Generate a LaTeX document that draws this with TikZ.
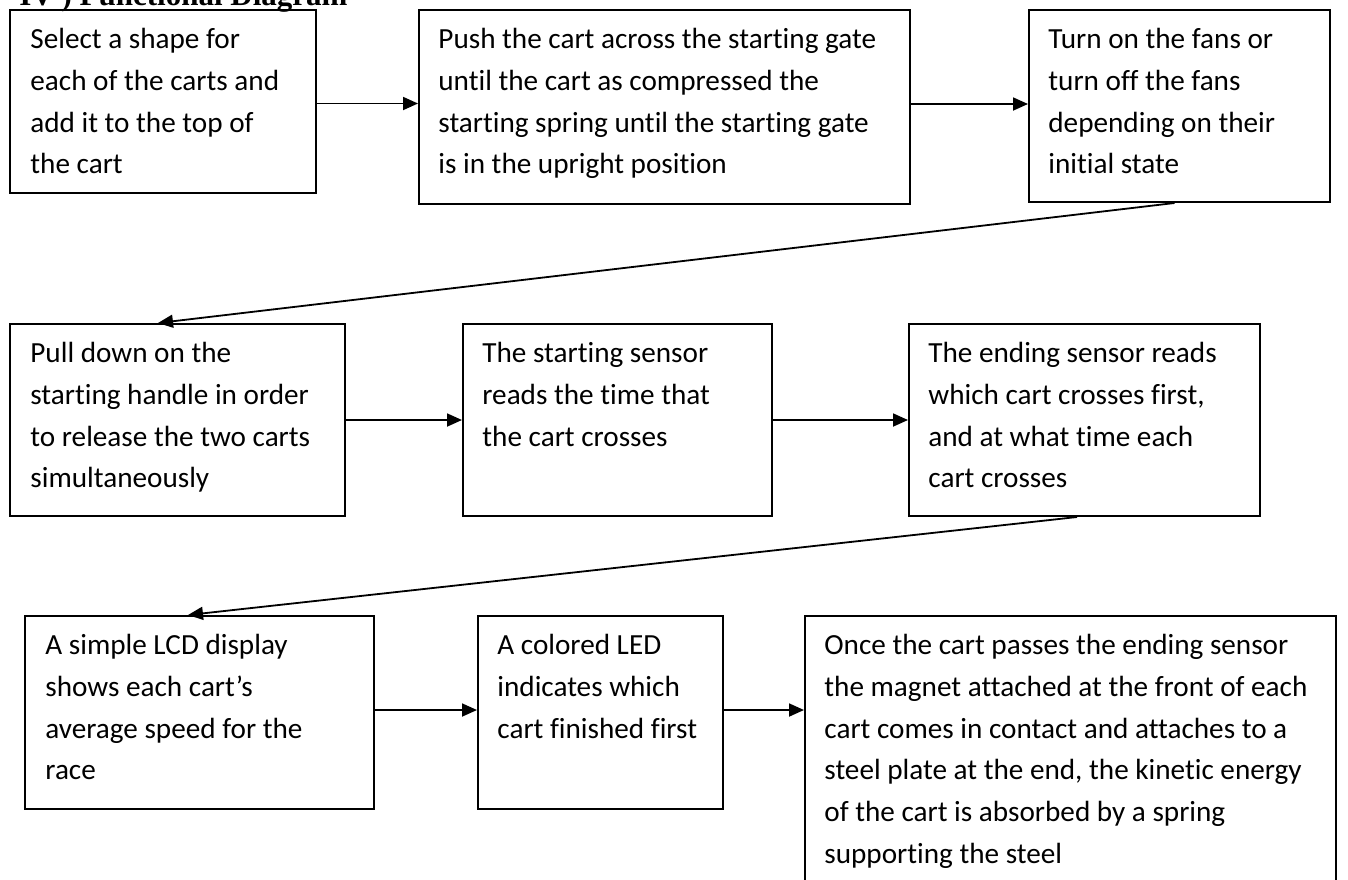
\documentclass[tikz,border=0pt]{standalone}
\usepackage{fontspec}
\setmainfont[Ligatures=NoCommon]{Carlito}
\newfontfamily\titlefont{Liberation Serif}
\usetikzlibrary{arrows.meta,positioning}

\begin{document}
\begin{tikzpicture}[x=0.5pt, y=-0.5pt,
  stepbox/.style={rectangle, draw, line width=1pt, anchor=north west, inner sep=0pt},
  steptext/.style={anchor=north west, align=left, inner sep=0pt, font=\fontsize{14.6}{20.85}\selectfont},
  flow/.style={-{Triangle[length=7.5pt,width=6.5pt]}, line width=0.9pt}]
  \useasboundingbox (0,0) rectangle (1348,879);

  \node (title) [anchor=base west, inner sep=0pt, font=\titlefont\bfseries\fontsize{15.5}{18}\selectfont] at (19,5) {IV ) Functional Diagram};

  % first row
  \node (b1) [stepbox, minimum width=153pt, minimum height=91.5pt] at (9,9) {};
  \node (b2) [stepbox, minimum width=245.5pt, minimum height=97pt] at (418,9) {};
  \node (b3) [stepbox, minimum width=150.5pt, minimum height=96pt] at (1028,9) {};
  % second row
  \node (b4) [stepbox, minimum width=167.5pt, minimum height=96pt] at (9,323) {};
  \node (b5) [stepbox, minimum width=154.5pt, minimum height=96pt] at (462,323) {};
  \node (b6) [stepbox, minimum width=175.5pt, minimum height=96pt] at (908,323) {};
  % third row
  \node (b7) [stepbox, minimum width=174.5pt, minimum height=96.5pt] at (24,615) {};
  \node (b8) [stepbox, minimum width=122.5pt, minimum height=96.5pt] at (477,615) {};
  \node (b9) [stepbox, minimum width=265.5pt, minimum height=140pt] at (804,615) {};

  \node (t1) [steptext] at ([xshift=10.5pt, yshift=-9.5pt]b1.north west) {Select a shape for\\each of the carts and\\add it to the top of\\the cart};
  \node (t2) [steptext] at ([xshift=10pt, yshift=-9.5pt]b2.north west) {Push the cart across the starting gate\\until the cart as compressed the\\starting spring until the starting gate\\is in the upright position};
  \node (t3) [steptext] at ([xshift=10pt, yshift=-9.5pt]b3.north west) {Turn on the fans or\\turn off the fans\\depending on their\\initial state};
  \node (t4) [steptext] at ([xshift=10.5pt, yshift=-9.5pt]b4.north west) {Pull down on the\\starting handle in order\\to release the two carts\\simultaneously};
  \node (t5) [steptext] at ([xshift=10pt, yshift=-9.5pt]b5.north west) {The starting sensor\\reads the time that\\the cart crosses};
  \node (t6) [steptext] at ([xshift=10pt, yshift=-9.5pt]b6.north west) {The ending sensor reads\\which cart crosses first,\\and at what time each\\cart crosses};
  \node (t7) [steptext] at ([xshift=10.5pt, yshift=-9.5pt]b7.north west) {A simple LCD display\\shows each cart’s\\average speed for the\\race};
  \node (t8) [steptext] at ([xshift=10pt, yshift=-9.5pt]b8.north west) {A colored LED\\indicates which\\cart finished first};
  \node (t9) [steptext] at ([xshift=10pt, yshift=-9.5pt]b9.north west) {Once the cart passes the ending sensor\\the magnet attached at the front of each\\cart comes in contact and attaches to a\\steel plate at the end, the kinetic energy\\of the cart is absorbed by a spring\\supporting the steel};

  \draw[flow] ([yshift=-1pt]b1.east) -- ([yshift=-1pt]b1.east -| b2.west);
  \draw[flow] ([yshift=1.5pt]b2.east) -- ([yshift=1.5pt]b2.east -| b3.west);
  \draw[flow] ([xshift=-2.5pt]b3.south) -- ([xshift=-9.75pt]b4.north);
  \draw[flow] (b4.east) -- (b4.east -| b5.west);
  \draw[flow] (b5.east) -- (b5.east -| b6.west);
  \draw[flow] ([xshift=-3.75pt]b6.south) -- ([xshift=-5.75pt]b7.north);
  \draw[flow] ([yshift=1.25pt]b7.east) -- ([yshift=1.25pt]b7.east -| b8.west);
  \draw[flow] ([yshift=1.25pt]b8.east) -- ([yshift=1.25pt]b8.east -| b9.west);
\end{tikzpicture}
\end{document}
